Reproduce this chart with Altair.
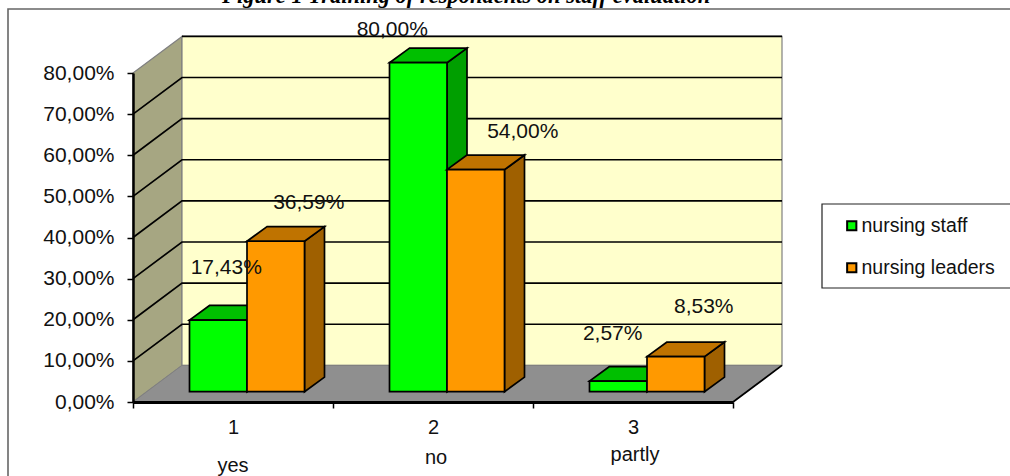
import altair as alt
import pandas as pd

# Chart values, in percent
chart_title = "Figure 1 Training of respondents on staff evaluation"
categories = ["1", "2", "3"]
category_names = ["yes", "no", "partly"]
series_names = ["nursing staff", "nursing leaders"]
nursing_staff = [17.43, 80.00, 2.57]
nursing_leaders = [36.59, 54.00, 8.53]
grid_values = [10, 20, 30, 40, 50, 60, 70]

FRONT = {"nursing staff": "#00FF00", "nursing leaders": "#FF9900"}
TOP = {"nursing staff": "#00BF00", "nursing leaders": "#BF7300"}
SIDE = {"nursing staff": "#009F00", "nursing leaders": "#9F6000"}
FONT = "Liberation Sans"
EDGE = 1.7

# Oblique projection, expressed in axis units (one category wide, percent high)
WALL_DX, WALL_DY = 0.245, 8.9
BAR_DX, BAR_DY = 0.1, 3.55
BAR_LIFT = 2.5
BAR_WIDTH = 0.2875
BAR_START = {"nursing staff": 0.2825, "nursing leaders": 0.57}

# Hand placement of the value labels relative to the top centre of each bar
LABEL_NUDGE = {
    ("nursing staff", 0): (0.04, 12.6), ("nursing leaders", 0): (0.165, 9.4),
    ("nursing staff", 1): (-0.13, 8.0), ("nursing leaders", 1): (0.235, 9.2),
    ("nursing staff", 2): (-0.028, 11.4), ("nursing leaders", 2): (0.14, 12.1),
}
NAME_POS = [(0.5, -15.6), (1.515, -13.6), (2.51, -12.9)]
TITLE_POS = (0.445, 96.9)

x_scale = alt.Scale(domain=[0, 3], nice=False, zero=False)
y_scale = alt.Scale(domain=[0, 80], nice=False, zero=False)

x_axis = alt.Axis(
    values=[0, 1, 2, 3], title=None, grid=False, zindex=1,
    labelExpr="datum.value < 3 ? format(datum.value + 1, 'd') : ''",
    labelOffset=100, labelPadding=9, labelFont=FONT, labelFontSize=20, labelColor="#111",
    labelFlush=False, labelOverlap=False,
    domainColor="black", domainWidth=3, tickColor="black", tickWidth=1.5, tickSize=6,
)
y_axis = alt.Axis(
    values=[0, 10, 20, 30, 40, 50, 60, 70, 80], title=None, grid=False, zindex=1,
    labelExpr="replace(format(datum.value, '.2f'), '.', ',') + '%'",
    labelPadding=13, labelFont=FONT, labelFontSize=21, labelColor="#111",
    domainColor="black", domainWidth=2.5, tickColor="black", tickWidth=1.5, tickSize=6,
)

X = alt.X("x:Q", scale=x_scale, axis=x_axis, title=None)
Y = alt.Y("y:Q", scale=y_scale, axis=y_axis, title=None)
X2 = alt.X2("x2:Q")
Y2 = alt.Y2("y2:Q")

# Chart frame and legend box, both running past the page edge
frame = alt.Chart(pd.DataFrame({"k": [0]})).mark_rect(
    fill="white", stroke="#666666", strokeWidth=1.6
).encode(x=alt.value(-125), x2=alt.value(960), y=alt.value(-64), y2=alt.value(520))
legend_box = alt.Chart(pd.DataFrame({"k": [0]})).mark_rect(
    fill="white", stroke="#222222", strokeWidth=1.2
).encode(x=alt.value(689), x2=alt.value(960), y=alt.value(131), y2=alt.value(215))

# Heading sits high on the page, above the frame
heading = alt.Chart(pd.DataFrame({
    "x": [TITLE_POS[0]], "y": [TITLE_POS[1]], "label": [chart_title],
})).mark_text(
    font="Liberation Serif", fontSize=22.5, fontWeight="bold", fontStyle="italic",
    color="black", align="left", baseline="alphabetic",
).encode(x=X, y=Y, text="label:N")

# Walls and floor
left_wall = alt.Chart(pd.DataFrame({
    "x": [0, WALL_DX], "y": [80, 80 + WALL_DY], "y2": [0, WALL_DY],
})).mark_area(fill="#A6A682", stroke="#808080", strokeWidth=1.2).encode(x=X, y=Y, y2=Y2)
back_wall = alt.Chart(pd.DataFrame({
    "x": [WALL_DX], "x2": [3 + WALL_DX], "y": [80 + WALL_DY], "y2": [WALL_DY],
})).mark_rect(fill="#FFFFCC", stroke="#808080", strokeWidth=1.2).encode(x=X, x2=X2, y=Y, y2=Y2)
floor = alt.Chart(pd.DataFrame({
    "y": [0, WALL_DY], "x": [0, WALL_DX], "x2": [3, 3 + WALL_DX],
})).mark_area(orient="horizontal", fill="#8F8F8F", stroke="#808080", strokeWidth=1).encode(
    y=Y, x=X, x2=X2
)

# Gridlines wrap from the side wall onto the back wall
grid_rows = []
for v in grid_values:
    grid_rows += [
        {"g": v, "o": 0, "x": 0, "y": v},
        {"g": v, "o": 1, "x": WALL_DX, "y": v + WALL_DY},
        {"g": v, "o": 2, "x": 3 + WALL_DX, "y": v + WALL_DY},
    ]
grid_rows += [
    {"g": 80, "o": 0, "x": WALL_DX, "y": 80 + WALL_DY},
    {"g": 80, "o": 1, "x": 3 + WALL_DX, "y": 80 + WALL_DY},
    {"g": 0, "o": 0, "x": 3, "y": 0},
    {"g": 0, "o": 1, "x": 3 + WALL_DX, "y": WALL_DY},
]
grid = alt.Chart(pd.DataFrame(grid_rows)).mark_line(color="black", strokeWidth=1.7).encode(
    x=X, y=Y, detail="g:N", order="o:Q"
)

# Bars: side, top and front faces for one series at a time, so that
# each later face paints over the ones behind it
def bar_layers(name, values):
    start = BAR_START[name]
    sides, tops, fronts = [], [], []
    for i, v in enumerate(values):
        x0 = i + start
        x1 = x0 + BAR_WIDTH
        t = v + BAR_LIFT
        sides += [
            {"b": i, "x": x1, "y": t, "y2": BAR_LIFT},
            {"b": i, "x": x1 + BAR_DX, "y": t + BAR_DY, "y2": BAR_LIFT + BAR_DY},
        ]
        tops += [
            {"b": i, "y": t, "x": x0, "x2": x1},
            {"b": i, "y": t + BAR_DY, "x": x0 + BAR_DX, "x2": x1 + BAR_DX},
        ]
        fronts.append({"series": name, "x": x0, "x2": x1, "y": t, "y2": BAR_LIFT})
    side = alt.Chart(pd.DataFrame(sides)).mark_area(
        fill=SIDE[name], stroke="black", strokeWidth=EDGE
    ).encode(x=X, y=Y, y2=Y2, detail="b:N")
    top = alt.Chart(pd.DataFrame(tops)).mark_area(
        orient="horizontal", fill=TOP[name], stroke="black", strokeWidth=EDGE
    ).encode(y=Y, x=X, x2=X2, detail="b:N")
    front = alt.Chart(pd.DataFrame(fronts)).mark_rect(stroke="black", strokeWidth=EDGE).encode(
        x=X, x2=X2, y=Y, y2=Y2,
        color=alt.Color(
            "series:N",
            scale=alt.Scale(domain=series_names, range=[FRONT[s] for s in series_names]),
            legend=alt.Legend(
                title=None, orient="none", legendX=709, legendY=143, padding=0,
                symbolType="square", symbolSize=85, symbolStrokeColor="black",
                symbolStrokeWidth=2, symbolOpacity=1, labelFont=FONT, labelFontSize=19.5,
                labelColor="#111", labelOffset=0, rowPadding=21, labelLimit=300,
            ),
        ),
    )
    return [side, top, front]

# Value labels
label_rows = []
for name, values in zip(series_names, [nursing_staff, nursing_leaders]):
    for i, v in enumerate(values):
        nx, ny = LABEL_NUDGE[(name, i)]
        label_rows.append({
            "x": i + BAR_START[name] + BAR_WIDTH / 2 + nx,
            "y": v + BAR_LIFT + ny,
            "label": f"{v:.2f}%".replace(".", ","),
        })
value_labels = alt.Chart(pd.DataFrame(label_rows)).mark_text(
    font=FONT, fontSize=21, color="#111", align="center", baseline="middle"
).encode(x=X, y=Y, text="label:N")

name_labels = alt.Chart(pd.DataFrame({
    "x": [p[0] for p in NAME_POS],
    "y": [p[1] for p in NAME_POS],
    "label": category_names,
})).mark_text(
    font=FONT, fontSize=20, color="#111", align="center", baseline="middle"
).encode(x=X, y=Y, text="label:N")

chart = alt.layer(
    frame, legend_box, heading, left_wall, back_wall, floor, grid,
    *bar_layers(series_names[0], nursing_staff),
    *bar_layers(series_names[1], nursing_leaders),
    value_labels, name_labels,
).properties(
    width=600,
    height=329,
    padding={"left": 133, "top": 73, "right": 277, "bottom": 74},
    autosize=alt.AutoSizeParams(type="none"),
).configure_view(stroke=None)

chart.save("out.html", embed_options={"renderer": "svg", "actions": False})
